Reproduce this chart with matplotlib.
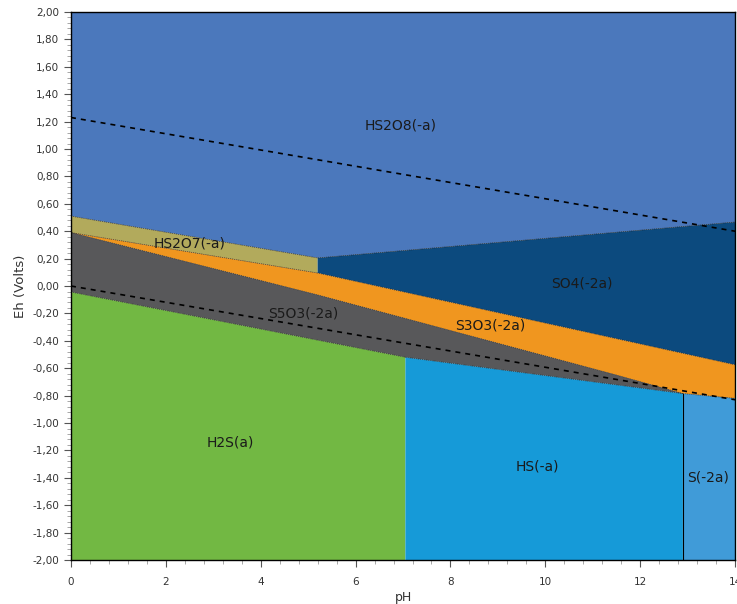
import matplotlib
matplotlib.use('Agg')
import matplotlib.pyplot as plt
from matplotlib.ticker import MultipleLocator, FuncFormatter

# Области устойчивости (pH, Eh)
hs2o8 = [(0, 2.0), (14, 2.0), (14, 0.467), (5.2, 0.205), (0, 0.51)]
hs2o7 = [(0, 0.51), (5.2, 0.205), (5.2, 0.095), (0, 0.39)]
so4 = [(5.2, 0.205), (14, 0.467), (14, -0.575), (5.2, 0.095)]
s3o3 = [(0, 0.39), (5.2, 0.095), (14, -0.575), (14, -0.82), (12.9, -0.785),
        (11.5, -0.65), (5.2, -0.065)]
s5o3 = [(0, 0.39), (5.2, -0.065), (11.5, -0.65), (12.9, -0.785),
        (7.05, -0.52), (0, -0.044)]
h2s = [(0, -0.044), (7.05, -0.52), (7.05, -2.0), (0, -2.0)]
hs = [(7.05, -0.52), (12.9, -0.785), (12.9, -2.0), (7.05, -2.0)]
s2 = [(12.9, -0.785), (14, -0.82), (14, -2.0), (12.9, -2.0)]

regions = [hs2o8, hs2o7, so4, s3o3, s5o3, h2s, hs, s2]
names = ['HS2O8(-a)', 'HS2O7(-a)', 'SO4(-2a)', 'S3O3(-2a)', 'S5O3(-2a)',
         'H2S(a)', 'HS(-a)', 'S(-2a)']
colors = ['#4b78bc', '#b2aa5c', '#0c4a7e', '#f0961f', '#58585a',
          '#72b843', '#169ad8', '#409bd8']
label_ph = [6.94, 2.51, 10.77, 8.83, 4.89, 3.35, 9.83, 13.43]
label_eh = [1.17, 0.31, 0.02, -0.285, -0.20, -1.14, -1.32, -1.40]

# Линии устойчивости воды
water_ph = [0, 14]
water_top = [1.23, 0.40]
water_bot = [0.0, -0.83]

fig = plt.figure(figsize=(7.37, 6.04), dpi=100)
ax = fig.add_axes([0.0963, 0.0728, 0.9011, 0.9073])

for poly, c in zip(regions, colors):
    xs = [p[0] for p in poly]
    ys = [p[1] for p in poly]
    ax.fill(xs, ys, color=c, linewidth=0)

# Тонкие границы между областями
edge_lines = [hs2o7[:2], hs2o7[2:], so4[:2], so4[2:], s3o3[4:] + [s3o3[0]],
              h2s[:2], hs[:2], s2[:2]]
for seg in edge_lines:
    ax.plot([p[0] for p in seg], [p[1] for p in seg], color='#1a1a1a',
            lw=0.5, ls=(0, (2, 1)), alpha=0.8)
ax.plot([hs[1][0], hs[2][0]], [hs[1][1], hs[2][1]], color='black', lw=0.8)

ax.plot(water_ph, water_top, color='black', lw=1.2, ls=(0, (3, 3)))
ax.plot(water_ph, water_bot, color='black', lw=1.2, ls=(0, (3, 3)))

for name, x, y in zip(names, label_ph, label_eh):
    ax.text(x, y, name, ha='center', va='center', fontsize=10, color='#1a1a1a')

ax.set_xlim(0, 14)
ax.set_ylim(-2, 2)
ax.xaxis.set_major_locator(MultipleLocator(2))
ax.xaxis.set_minor_locator(MultipleLocator(0.4))
ax.yaxis.set_major_locator(MultipleLocator(0.2))
ax.yaxis.set_minor_locator(MultipleLocator(0.04))
ax.yaxis.set_major_formatter(FuncFormatter(lambda v, p: f'{v:.2f}'.replace('.', ',').replace('−', '-')))
ax.xaxis.set_major_formatter(FuncFormatter(lambda v, p: f'{v:g}'))
ax.tick_params(which='major', length=5, color='#555555', labelsize=7.5,
               labelcolor='#333333')
ax.tick_params(which='minor', length=3, color='#999999')
ax.tick_params(axis='x', pad=7)
for s in ax.spines.values():
    s.set_linewidth(1)

ax.set_xlabel('pH', fontsize=9, color='#333333', labelpad=3)
ax.set_ylabel('Eh (Volts)', fontsize=9.5, color='#333333', labelpad=4)

fig.savefig('out.png', dpi=100)
